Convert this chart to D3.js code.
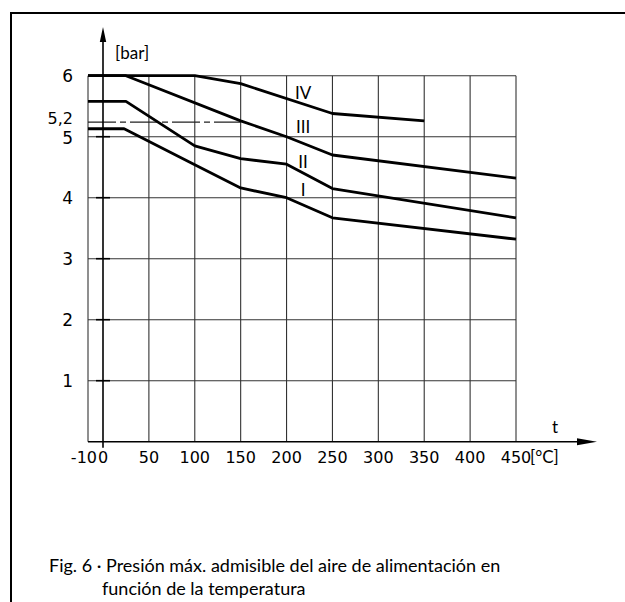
<!DOCTYPE html>
<html>
<head>
<meta charset="utf-8">
<script src="https://cdn.jsdelivr.net/npm/d3@7"></script>
<style>
  html, body { margin: 0; padding: 0; background: #fff; }
  svg { display: block; font-family: Lato, 'Liberation Sans', sans-serif; }
  .num { font-family: 'DejaVu Sans', sans-serif; }
</style>
</head>
<body>
<div id="chart"></div>
<script>
// temperatures [°C] and max. supply pressure [bar] for each curve
const curveNames = ['I', 'II', 'III', 'IV'];
const tempI   = [-10, 23, 100, 150, 200, 250, 450];
const presI   = [5.13, 5.13, 4.54, 4.16, 4.0, 3.67, 3.32];
const tempII  = [-10, 25, 100, 150, 200, 250, 450];
const presII  = [5.58, 5.58, 4.85, 4.64, 4.55, 4.15, 3.67];
const tempIII = [-10, 25, 150, 200, 250, 450];
const presIII = [6, 6, 5.26, 5.0, 4.7, 4.32];
const tempIV  = [-10, 100, 150, 250, 350];
const presIV  = [6, 6, 5.87, 5.38, 5.26];

const xTicks = [-10, 0, 50, 100, 150, 200, 250, 300, 350, 400, 450];
const yTicks = [1, 2, 3, 4, 5, 6];
const refPressure = 5.24, refLabel = '5,2', refEnd = 150;
// where the roman numerals sit (temp, pressure)
const labelPos = { I: [218, 4.13], II: [218, 4.59], III: [218, 5.16], IV: [218, 5.72] };

const W = 625, H = 602;
const svg = d3.select('#chart').append('svg').attr('width', W).attr('height', H);

// frame (top and left only)
svg.append('path').attr('d', `M11,602 V13 H625`).attr('fill', 'none')
  .attr('stroke', '#000').attr('stroke-width', 2);

const x = d3.scaleLinear().domain([-10, 0, 450]).range([88, 103, 516]);
const y = d3.scaleLinear().domain([0, 6]).range([441.7, 75.7]);

// grid
const g = svg.append('g');
g.selectAll('.vg').data(xTicks.filter(d => d !== 0)).enter().append('line')
  .attr('x1', d => x(d)).attr('x2', d => x(d)).attr('y1', y(0)).attr('y2', y(6))
  .attr('stroke', '#333').attr('stroke-width', 1.1);
g.selectAll('.hg').data(yTicks).enter().append('line')
  .attr('x1', x(-10)).attr('x2', x(450)).attr('y1', d => y(d)).attr('y2', d => y(d))
  .attr('stroke', '#333').attr('stroke-width', 1.1);

// little ticks on the y axis
g.selectAll('.yt').data(yTicks).enter().append('line')
  .attr('x1', x(0) - 7).attr('x2', x(0) + 7).attr('y1', d => y(d)).attr('y2', d => y(d))
  .attr('stroke', '#000').attr('stroke-width', 1.6);

// reference line 5,2
g.append('line').attr('x1', x(-10)).attr('x2', x(refEnd))
  .attr('y1', y(refPressure)).attr('y2', y(refPressure))
  .attr('stroke', '#222').attr('stroke-width', 1.2).attr('stroke-dasharray', '28,4,6,4');

// axes with arrows
svg.append('line').attr('x1', x(0)).attr('x2', x(0)).attr('y1', y(0) + 6).attr('y2', 40)
  .attr('stroke', '#000').attr('stroke-width', 1.6);
svg.append('path').attr('d', `M${x(0)},27 L${x(0) - 3.2},42 L${x(0) + 3.2},42 Z`).attr('fill', '#000');
svg.append('line').attr('x1', x(-10)).attr('x2', 580).attr('y1', y(0)).attr('y2', y(0))
  .attr('stroke', '#000').attr('stroke-width', 1.6);
svg.append('path').attr('d', `M597,${y(0)} L577,${y(0) - 3.5} L577,${y(0) + 3.5} Z`).attr('fill', '#000');

// curves
const line = d3.line().x(d => x(d[0])).y(d => y(d[1]));
const curves = {
  I: d3.zip(tempI, presI), II: d3.zip(tempII, presII),
  III: d3.zip(tempIII, presIII), IV: d3.zip(tempIV, presIV)
};
curveNames.forEach(n => {
  svg.append('path').datum(curves[n]).attr('d', line).attr('fill', 'none')
    .attr('stroke', '#000').attr('stroke-width', 2.8).attr('stroke-linejoin', 'round');
  svg.append('text').attr('x', x(labelPos[n][0])).attr('y', y(labelPos[n][1]) + 6)
    .attr('text-anchor', 'middle').attr('font-size', 17).text(n);
});

// tick labels
svg.selectAll('.xl').data(xTicks).enter().append('text').attr('class', 'num')
  .attr('x', d => d === -10 ? x(0) - 6 : x(d)).attr('y', 463)
  .attr('text-anchor', d => d === -10 ? 'end' : 'middle')
  .attr('font-size', 16).text(d => d);
svg.selectAll('.yl').data(yTicks).enter().append('text').attr('class', 'num')
  .attr('x', 73).attr('y', d => y(d) + (d === 5 ? 7.3 : 6.5)).attr('text-anchor', 'end')
  .attr('font-size', 17).text(d => d);
svg.append('text').attr('class', 'num').attr('x', 73).attr('y', y(refPressure) + 1.5)
  .attr('text-anchor', 'end').attr('font-size', 16).text(refLabel);

// units
svg.append('text').attr('x', 115).attr('y', 59).attr('font-size', 17).text('[bar]');
svg.append('text').attr('x', 555).attr('y', 433).attr('text-anchor', 'middle').attr('font-size', 17).text('t');
svg.append('text').attr('x', 530).attr('y', 463).attr('font-size', 17).text('[°C]');

// caption
svg.append('text').attr('x', 49).attr('y', 572).attr('font-size', 18)
  .text('Fig. 6 · Presión máx. admisible del aire de alimentación en');
svg.append('text').attr('x', 102).attr('y', 595).attr('font-size', 18)
  .text('función de la temperatura');
</script>
</body>
</html>
